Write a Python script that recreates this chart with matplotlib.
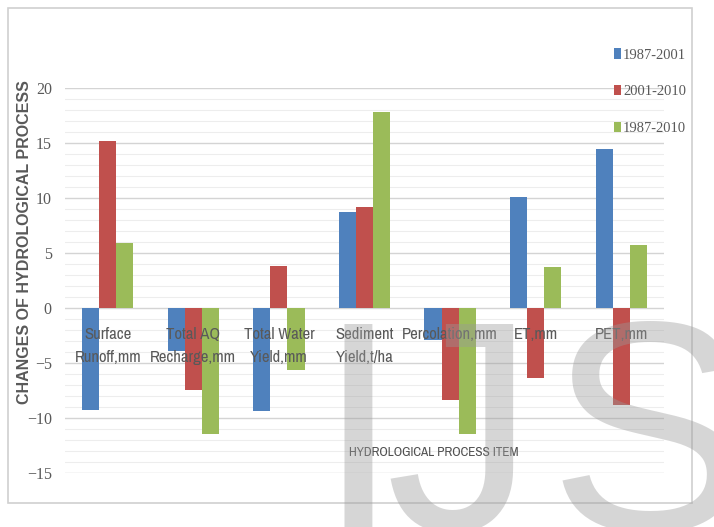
import matplotlib
matplotlib.use('Agg')
import matplotlib.pyplot as plt
from matplotlib.ticker import MultipleLocator
from matplotlib.patches import Rectangle
import numpy as np

categories = ['Surface\nRunoff,mm', 'Total AQ\nRecharge,mm', 'Total Water\nYield,mm',
              'Sediment\nYield,t/ha', 'Percolation,mm', 'ET,mm', 'PET,mm']
series_names = ['1987-2001', '2001-2010', '1987-2010']
v_8701 = [-9.3, -3.9, -9.4, 8.7, -2.9, 10.1, 14.5]
v_0110 = [15.2, -7.5, 3.8, 9.2, -8.4, -6.4, -8.8]
v_8710 = [5.9, -11.5, -5.6, 17.8, -11.5, 3.7, 5.7]
y_ticks = [-15, -10, -5, 0, 5, 10, 15, 20]

colors = ['#4F81BD', '#C0504D', '#9BBB59']
gray = '#595959'
narrow = ['Archivo Narrow', 'Liberation Sans', 'DejaVu Sans']
serif = ['Liberation Serif', 'DejaVu Serif']

fig = plt.figure(figsize=(7.14, 5.27), dpi=100)
ax = fig.add_axes([0.091, 0.1025, 0.839, 0.7305])

x = np.arange(len(categories))
w = 0.2
for k, (vals, name) in enumerate(zip([v_8701, v_0110, v_8710], series_names)):
    ax.bar(x + (k - 1) * w, vals, width=w, color=colors[k], label=name, zorder=3)

ax.set_xlim(-0.5, len(categories) - 0.5)
ax.set_ylim(-15, 20)
ax.set_yticks(y_ticks)
ax.yaxis.set_minor_locator(MultipleLocator(1))
ax.grid(which='major', axis='y', color='#d4d4d4', lw=1.0, zorder=0)
ax.grid(which='minor', axis='y', color='#ededed', lw=0.8, zorder=0)
ax.set_xticks([])
for s in ax.spines.values():
    s.set_visible(False)
ax.tick_params(axis='y', which='both', length=0, pad=9.5)
for t in ax.get_yticklabels():
    t.set_fontfamily(serif)
    t.set_fontsize(11.5)
    t.set_color(gray)

# category labels hang below the zero line
for i, c in enumerate(categories):
    ax.annotate(c, xy=(x[i], 0), xytext=(0, -14), textcoords='offset points',
                ha='center', va='top', fontsize=12, family=narrow, color=gray,
                linespacing=1.6, zorder=5)

fig.text(0.608, 1 - 453 / 527, 'HYDROLOGICAL PROCESS ITEM', ha='center', va='center',
         fontsize=9.5, family=narrow, color='#505050')
fig.text(0.035, 1 - 242 / 527, 'CHANGES OF HYDROLOGICAL PROCESS', rotation=90,
         ha='center', va='center', fontsize=11.5, fontweight='bold',
         family=['Liberation Sans', 'DejaVu Sans'], color=gray)

leg = fig.legend(loc='upper left', bbox_to_anchor=(0.841, 0.933), frameon=False,
                 handlelength=0.5, handleheight=0.7, handletextpad=0.15,
                 labelspacing=1.6, prop={'family': serif, 'size': 10.5})
for t in leg.get_texts():
    t.set_color(gray)

# chart border
fig.add_artist(Rectangle((8 / 714, 1 - 503 / 527), 684 / 714, 495 / 527,
                         transform=fig.transFigure, fill=False, ec='#d0d0d0', lw=1.2))

# watermark letters
wm = dict(fontsize=215, family=['Liberation Sans', 'DejaVu Sans'], color='#9a9a9a',
          alpha=0.4, ha='left', va='baseline', zorder=10)
fig.text(317 / 714, -0.005, 'I', **wm)
fig.text(385 / 714, -0.005, 'J', **wm)
fig.text(548 / 714, -0.005, 'S', **wm)

fig.savefig('out.png', dpi=100)
